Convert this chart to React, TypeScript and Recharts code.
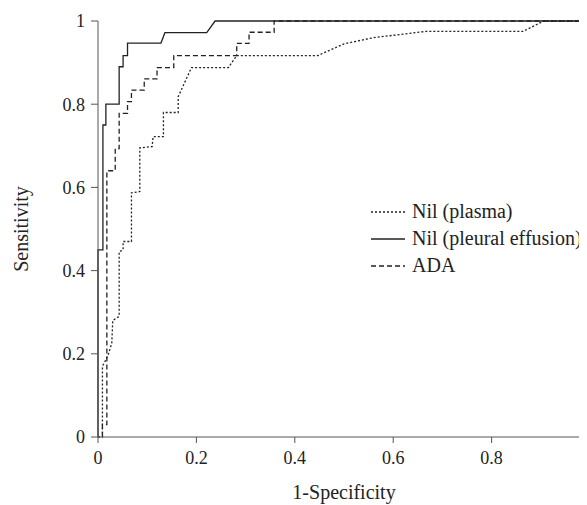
import React from "react";
import { LineChart, Line, XAxis, YAxis, Legend, Label } from "recharts";

// ROC curve points: [1 - specificity, sensitivity]
const plasmaX = [0, 0.009, 0.009, 0.02, 0.028, 0.03, 0.043, 0.043, 0.051, 0.051, 0.068, 0.068, 0.085, 0.085, 0.11, 0.112, 0.133, 0.133, 0.163, 0.163, 0.19, 0.265, 0.282, 0.447, 0.5, 0.56, 0.667, 0.864, 0.906, 1];
const plasmaY = [0, 0, 0.17, 0.195, 0.225, 0.28, 0.29, 0.445, 0.45, 0.47, 0.47, 0.587, 0.59, 0.695, 0.698, 0.722, 0.722, 0.78, 0.78, 0.818, 0.888, 0.888, 0.917, 0.917, 0.945, 0.96, 0.975, 0.975, 1, 1];

const pleuralX = [0, 0, 0.01, 0.01, 0.016, 0.016, 0.043, 0.043, 0.051, 0.051, 0.06, 0.06, 0.128, 0.136, 0.221, 0.238, 1];
const pleuralY = [0, 0.45, 0.45, 0.75, 0.75, 0.8, 0.8, 0.89, 0.89, 0.917, 0.917, 0.947, 0.947, 0.972, 0.972, 1, 1];

const adaX = [0.009, 0.009, 0.018, 0.018, 0.035, 0.035, 0.043, 0.043, 0.06, 0.06, 0.068, 0.068, 0.094, 0.094, 0.12, 0.12, 0.154, 0.154, 0.282, 0.282, 0.307, 0.307, 0.358, 0.358, 1];
const adaY = [0, 0.03, 0.03, 0.64, 0.64, 0.693, 0.693, 0.778, 0.778, 0.806, 0.806, 0.834, 0.834, 0.861, 0.861, 0.888, 0.888, 0.917, 0.917, 0.946, 0.946, 0.973, 0.973, 1, 1];

// x = 1 falls just past the right edge of the picture, so its label is left out
const xTicks = [0, 0.2, 0.4, 0.6, 0.8];
const yTicks = [0, 0.2, 0.4, 0.6, 0.8, 1];

const toPoints = (xs: number[], ys: number[]) => xs.map((x, i) => ({ x, y: ys[i] }));

const series = [
  { name: "Nil (plasma)", data: toPoints(plasmaX, plasmaY), dash: "2 2" },
  { name: "Nil (pleural effusion)", data: toPoints(pleuralX, pleuralY), dash: undefined },
  { name: "ADA", data: toPoints(adaX, adaY), dash: "5 3" },
];

const font = "'Liberation Serif', 'DejaVu Serif', serif";
const ink = "#222";
const axisColor = "#555";

const fmt = (v: number) => (v === 0 || v === 1 ? String(v) : v.toFixed(1));

function LegendBox() {
  return (
    <div style={{ fontFamily: font, fontSize: 20, color: ink, whiteSpace: "nowrap" }}>
      {series.map((s) => (
        <div key={s.name} style={{ display: "flex", alignItems: "center", height: 27 }}>
          <svg width={35} height={10} style={{ marginRight: 6 }}>
            <line x1={0} y1={5} x2={34} y2={5} stroke={ink} strokeWidth={1.3} strokeDasharray={s.dash} />
          </svg>
          <span>{s.name}</span>
        </div>
      ))}
    </div>
  );
}

export default function App() {
  return (
    <div style={{ width: 579, height: 497, overflow: "hidden", position: "relative" }}>
      <LineChart
        width={600}
        height={497}
        margin={{ top: 13, right: 18, left: 0, bottom: 4 }}
        style={{ fontFamily: font }}
      >
        <XAxis
          type="number"
          dataKey="x"
          domain={[0, 1]}
          ticks={xTicks}
          tickFormatter={fmt}
          stroke={axisColor}
          tick={{ fill: ink, fontSize: 18 }}
          tickSize={6}
          tickMargin={8}
          height={64}
          allowDuplicatedCategory={false}
        >
          <Label
            content={({ viewBox }: any) => (
              <text
                x={viewBox.x + viewBox.width / 2}
                y={viewBox.y + viewBox.height - 2}
                textAnchor="middle"
                fill={ink}
                fontSize={20}
                fontFamily={font}
              >
                1-Specificity
              </text>
            )}
          />
        </XAxis>
        <YAxis
          type="number"
          dataKey="y"
          domain={[0, 1]}
          ticks={yTicks}
          tickFormatter={fmt}
          stroke={axisColor}
          tick={{ fill: ink, fontSize: 18 }}
          tickSize={7}
          tickMargin={6}
          width={90}
        >
          <Label
            content={({ viewBox }: any) => {
              const cy = viewBox.y + viewBox.height / 2;
              return (
                <text
                  x={13}
                  y={cy}
                  transform={`rotate(-90, 13, ${cy})`}
                  textAnchor="middle"
                  dominantBaseline="central"
                  fill={ink}
                  fontSize={20}
                  fontFamily={font}
                >
                  Sensitivity
                </text>
              );
            }}
          />
        </YAxis>
        <Legend
          layout="vertical"
          align="center"
          verticalAlign="middle"
          content={() => <LegendBox />}
          wrapperStyle={{ left: 363, top: 190, width: 280 }}
        />
        {series.map((s) => (
          <Line
            key={s.name}
            name={s.name}
            data={s.data}
            dataKey="y"
            type="linear"
            stroke={ink}
            strokeWidth={1.3}
            strokeDasharray={s.dash}
            dot={false}
            activeDot={false}
            isAnimationActive={false}
          />
        ))}
      </LineChart>
    </div>
  );
}
